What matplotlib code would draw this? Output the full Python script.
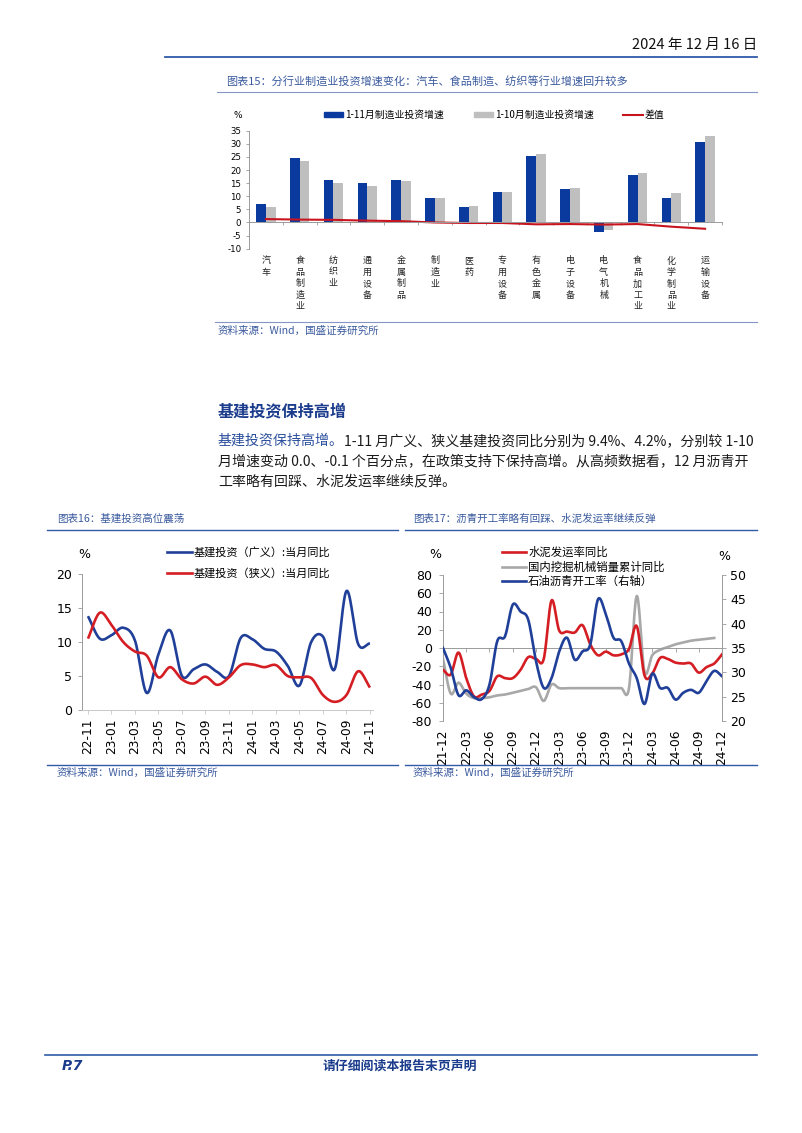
import numpy as np
import matplotlib
matplotlib.use('Agg')
import matplotlib.pyplot as plt
from matplotlib.lines import Line2D
from matplotlib.patches import Patch

# ---------------- data ----------------
industries = ['汽车', '食品制造业', '纺织业', '通用设备', '金属制品', '制造业', '医药',
              '专用设备', '有色金属', '电子设备', '电气机械', '食品加工业', '化学制品业', '运输设备']
inv_1_11 = [7.1, 24.6, 16.2, 14.9, 16.3, 9.3, 6.0, 11.6, 25.3, 12.6, -3.5, 18.2, 9.5, 30.7]
inv_1_10 = [5.9, 23.5, 15.1, 14.1, 15.8, 9.3, 6.2, 11.8, 26.1, 13.1, -2.7, 19.0, 11.1, 33.1]
inv_diff = [1.3, 1.1, 1.0, 0.7, 0.5, 0.0, -0.2, -0.2, -0.7, -0.6, -0.8, -0.6, -1.6, -2.4]
bar_legend = ['1-11月制造业投资增速', '1-10月制造业投资增速', '差值']

infra_months = ['22-11', '22-12', '23-01', '23-02', '23-03', '23-04', '23-05', '23-06', '23-07',
                '23-08', '23-09', '23-10', '23-11', '23-12', '24-01', '24-02', '24-03', '24-04',
                '24-05', '24-06', '24-07', '24-08', '24-09', '24-10', '24-11']
infra_broad = [13.8, 10.5, 11.0, 12.1, 10.2, 2.5, 8.2, 11.7, 5.0, 6.0, 6.7, 5.6, 5.0,
               10.6, 10.4, 9.0, 8.6, 6.5, 3.6, 10.0, 10.8, 6.0, 17.5, 9.7, 9.8]
infra_narrow = [10.5, 14.3, 12.5, 10.0, 8.6, 8.0, 4.8, 6.3, 4.5, 3.9, 4.9, 3.7, 4.8,
                6.6, 6.7, 6.3, 6.6, 5.0, 4.8, 4.7, 2.2, 1.2, 2.2, 5.7, 3.3]
infra_legend = ['基建投资（广义）:当月同比', '基建投资（狭义）:当月同比']

hf_months = ['21-12', '22-01', '22-02', '22-03', '22-04', '22-05', '22-06', '22-07', '22-08',
             '22-09', '22-10', '22-11', '22-12', '23-01', '23-02', '23-03', '23-04', '23-05',
             '23-06', '23-07', '23-08', '23-09', '23-10', '23-11', '23-12', '24-01', '24-02',
             '24-03', '24-04', '24-05', '24-06', '24-07', '24-08', '24-09', '24-10', '24-11', '24-12']
cement_yoy = [-24, -29, -5, -33, -53, -51, -47, -31, -33, -33, -24, -10, -12, -12, 52, 19, 18,
              17, 25, 4, -8, -4, -8, -7, -1, 24, -30, -28, -11, -12, -16, -17, -17, -27, -21, -17, -7]
excavator_cum = [-12, -50, -38, -50, -55, -55, -54, -52, -51, -49, -47, -45, -43, -58, -40, -44,
                 -44, -44, -44, -44, -44, -44, -44, -44, -44, 57, -26, -8, -2, 1, 4, 6, 8, 9, 10, 11]
asphalt_rate = [35.0, 30.9, 25.3, 26.3, 24.9, 24.5, 27.5, 36.4, 37.4, 43.9, 42.5, 40.8, 32.3,
                26.8, 28.8, 34.3, 37.1, 32.6, 34.3, 35.7, 45.0, 42.0, 37.1, 36.4, 31.8, 28.8,
                23.5, 29.7, 26.8, 26.8, 24.4, 25.8, 26.4, 25.8, 28.2, 30.3, 29.2]
hf_legend = ['水泥发运率同比', '国内挖掘机械销量累计同比', '石油沥青开工率（右轴）']

# ---------------- style ----------------
W, H = 802, 1133
CJK = ['Noto Sans CJK SC', 'DejaVu Sans']
NUM = ['DejaVu Sans', 'Noto Sans CJK SC']
plt.rcParams['font.family'] = NUM
plt.rcParams['axes.unicode_minus'] = False

BLUE_BAR = '#0B3A9E'
GRAY_BAR = '#BFBFBF'
RED = '#C8141E'
LBLUE = '#1F3F99'
LRED = '#D41E24'
LGRAY = '#A8A8A8'
TITLE_C = '#3A5A9E'
RULE_C = '#2F5BA8'
AXC = '#9A9A9A'

fig = plt.figure(figsize=(W / 100, H / 100), dpi=100)
fig.patch.set_facecolor('white')


def fx(x):
    return x / W


def fy(y):
    return 1 - y / H


def ax_px(l, t, r, b):
    return fig.add_axes([l / W, 1 - b / H, (r - l) / W, (b - t) / H])


def hline(x0, x1, y, color, lw):
    fig.add_artist(Line2D([fx(x0), fx(x1)], [fy(y), fy(y)], transform=fig.transFigure,
                          color=color, lw=lw))


def smooth(vals, n=16):
    y = np.asarray(vals, float)
    x = np.arange(len(y), dtype=float)
    m = np.zeros_like(y)
    m[1:-1] = (y[2:] - y[:-2]) / 2
    m[0] = y[1] - y[0]
    m[-1] = y[-1] - y[-2]
    xs, ys = [], []
    t = np.linspace(0, 1, n, endpoint=False)
    h00 = 2 * t ** 3 - 3 * t ** 2 + 1
    h10 = t ** 3 - 2 * t ** 2 + t
    h01 = -2 * t ** 3 + 3 * t ** 2
    h11 = t ** 3 - t ** 2
    for i in range(len(y) - 1):
        ys.append(h00 * y[i] + h10 * m[i] + h01 * y[i + 1] + h11 * m[i + 1])
        xs.append(x[i] + t)
    xs.append([x[-1]])
    ys.append([y[-1]])
    return np.concatenate(xs), np.concatenate(ys)


# ---------------- page header ----------------
fig.text(fx(757), fy(45), '2024 年 12 月 16 日', ha='right', va='center', fontsize=10.5,
         family=CJK, color='#111111')
hline(165, 757, 56.7, RULE_C, 1.3)

# ---------------- chart 15 ----------------
fig.text(fx(226), fy(81), '图表15：分行业制造业投资增速变化：汽车、食品制造、纺织等行业增速回升较多',
         ha='left', va='center', fontsize=8, family=CJK, color=TITLE_C)
hline(217, 757, 92, '#8596C6', 0.8)

ax1 = ax_px(249, 130.7, 722, 248.7)
xc = np.arange(len(industries))
ax1.bar(xc, inv_1_11, width=-0.287, align='edge', color=BLUE_BAR, zorder=2)
ax1.bar(xc, inv_1_10, width=0.287, align='edge', color=GRAY_BAR, zorder=2)
ax1.plot(xc, inv_diff, color=RED, lw=1.5, zorder=3)
ax1.set_xlim(-0.5, len(industries) - 0.5)
ax1.set_ylim(-10, 35)
ax1.set_yticks(np.arange(-10, 36, 5))
for s in ['top', 'right']:
    ax1.spines[s].set_visible(False)
ax1.spines['left'].set_color(AXC)
ax1.spines['left'].set_linewidth(0.7)
ax1.spines['bottom'].set_position(('data', 0))
ax1.spines['bottom'].set_color(AXC)
ax1.spines['bottom'].set_linewidth(0.7)
ax1.spines['bottom'].set_zorder(4)
ax1.set_xticks(np.arange(-0.5, len(industries), 1))
ax1.tick_params(axis='x', length=2.5, color=AXC, labelbottom=False, width=0.6)
ax1.tick_params(axis='y', length=2, color=AXC, labelsize=6.2, pad=3.5, width=0.6)
sec1 = ax1.secondary_xaxis('bottom')
sec1.set_xticks(xc, labels=['\n'.join(list(s)) for s in industries])
sec1.tick_params(length=0, pad=5.5, labelsize=6.5)
sec1.spines['bottom'].set_visible(False)
for lab in sec1.get_xticklabels():
    lab.set_family(CJK)
    lab.set_linespacing(1.35)
    lab.set_color('#222222')
fig.text(fx(238), fy(115), '%', ha='center', va='center', fontsize=6.5, family=NUM)
fig.legend([Patch(color=BLUE_BAR), Patch(color=GRAY_BAR), Line2D([], [], color=RED, lw=1.5)],
           bar_legend, loc='center left', bbox_to_anchor=(fx(324), fy(115)), ncol=3,
           frameon=False, prop={'family': CJK, 'size': 7.1}, handlelength=1.95,
           handleheight=0.55, handletextpad=0.2, columnspacing=3.0, borderpad=0,
           borderaxespad=0)

hline(215, 757, 322, '#8596C6', 0.8)
fig.text(fx(218), fy(331), '资料来源：Wind，国盛证券研究所', ha='left', va='center', fontsize=7.6,
         family=CJK, color=TITLE_C)

# ---------------- section text ----------------
fig.text(fx(218), fy(411), '基建投资保持高增', ha='left', va='center', fontsize=11.6,
         family=CJK, weight='bold', color='#1B3C8C')
renderer = fig.canvas.get_renderer()
t1 = fig.text(fx(218), fy(441), '基建投资保持高增。', ha='left', va='center', fontsize=10.05,
              family=CJK, color='#2A4E9C')
bb = t1.get_window_extent(renderer)
fig.text(bb.x1 / W, fy(441), '1-11 月广义、狭义基建投资同比分别为 9.4%、4.2%，分别较 1-10',
         ha='left', va='center', fontsize=10.05, family=CJK, color='#1A1A1A')
fig.text(fx(218), fy(461), '月增速变动 0.0、-0.1 个百分点，在政策支持下保持高增。从高频数据看，12 月沥青开',
         ha='left', va='center', fontsize=10.05, family=CJK, color='#1A1A1A')
fig.text(fx(218), fy(481), '工率略有回踩、水泥发运率继续反弹。', ha='left', va='center', fontsize=10.05,
         family=CJK, color='#1A1A1A')

# ---------------- chart 16 ----------------
fig.text(fx(57), fy(519), '图表16：基建投资高位震荡', ha='left', va='center', fontsize=7.6,
         family=CJK, color=TITLE_C)
hline(47, 398, 530, RULE_C, 1.0)

ax2 = ax_px(82, 574, 373, 710)
sx, sy = smooth(infra_broad)
ax2.plot(sx, sy, color=LBLUE, lw=1.9, solid_capstyle='butt')
sx, sy = smooth(infra_narrow)
ax2.plot(sx, sy, color=LRED, lw=1.9, solid_capstyle='butt')
ax2.set_xlim(-0.51, len(infra_months) - 1 + 0.26)
ax2.set_ylim(0, 20)
ax2.set_yticks([0, 5, 10, 15, 20])
ax2.set_xticks(np.arange(0, len(infra_months), 2), labels=infra_months[::2])
for s in ['top', 'right']:
    ax2.spines[s].set_visible(False)
ax2.spines['left'].set_color(AXC)
ax2.spines['left'].set_linewidth(0.7)
ax2.spines['bottom'].set_color('#C8C8C8')
ax2.spines['bottom'].set_linewidth(0.7)
ax2.tick_params(axis='y', length=3, color=AXC, labelsize=9, pad=4, width=0.6)
ax2.tick_params(axis='x', length=3, color='#C8C8C8', labelsize=8.8, pad=3, rotation=90,
                width=0.6)
fig.text(fx(84), fy(554), '%', ha='center', va='center', fontsize=9, family=NUM)
fig.legend([Line2D([], [], color=LBLUE, lw=1.9), Line2D([], [], color=LRED, lw=1.9)],
           infra_legend, loc='center left', bbox_to_anchor=(fx(167), fy(563)),
           frameon=False, prop={'family': CJK, 'size': 8}, handlelength=2.25,
           handletextpad=0.15, labelspacing=0.95, borderpad=0, borderaxespad=0)
hline(47, 398, 764.5, RULE_C, 1.0)
fig.text(fx(57), fy(773), '资料来源：Wind，国盛证券研究所', ha='left', va='center', fontsize=7.6,
         family=CJK, color=TITLE_C)

# ---------------- chart 17 ----------------
fig.text(fx(413), fy(519), '图表17：沥青开工率略有回踩、水泥发运率继续反弹', ha='left', va='center',
         fontsize=7.6, family=CJK, color=TITLE_C)
hline(405, 757, 530, RULE_C, 1.0)

ax3 = ax_px(443, 575, 722, 721)
sx, sy = smooth(cement_yoy)
ax3.plot(sx, sy, color=LRED, lw=1.9, zorder=3)
sx, sy = smooth(excavator_cum)
ax3.plot(sx, sy, color=LGRAY, lw=1.9, zorder=2)
ax3.set_xlim(0, len(hf_months) - 1)
ax3.set_ylim(-80, 80)
ax3.set_yticks(np.arange(-80, 81, 20))
ax3r = ax3.twinx()
sx, sy = smooth(asphalt_rate)
ax3r.plot(sx, sy, color=LBLUE, lw=1.9)
ax3r.set_ylim(20, 50)
ax3r.set_yticks(np.arange(20, 51, 5))
for a in (ax3, ax3r):
    a.spines['top'].set_visible(False)
ax3r.spines['bottom'].set_visible(False)
ax3r.spines['left'].set_visible(False)
ax3.spines['right'].set_visible(False)
ax3.spines['left'].set_color(AXC)
ax3.spines['left'].set_linewidth(0.7)
ax3r.spines['right'].set_color(AXC)
ax3r.spines['right'].set_linewidth(0.7)
ax3.spines['bottom'].set_position(('data', 0))
ax3.spines['bottom'].set_color(AXC)
ax3.spines['bottom'].set_linewidth(0.7)
ax3.set_xticks(np.arange(0, len(hf_months), 3))
ax3.tick_params(axis='x', length=3, color=AXC, labelbottom=False, width=0.6)
ax3.tick_params(axis='y', length=3, color=AXC, labelsize=9, pad=5, width=0.6)
ax3r.tick_params(axis='y', length=3, color=AXC, labelsize=9, pad=3, width=0.6)
sec3 = ax3.secondary_xaxis('bottom')
sec3.set_xticks(np.arange(0, len(hf_months), 3), labels=hf_months[::3])
sec3.tick_params(length=0, pad=6, labelsize=8.8, labelrotation=90)
sec3.spines['bottom'].set_visible(False)
fig.text(fx(435), fy(554), '%', ha='center', va='center', fontsize=9, family=NUM)
fig.text(fx(724), fy(557), '%', ha='center', va='center', fontsize=9, family=NUM)
fig.legend([Line2D([], [], color=LRED, lw=1.9), Line2D([], [], color=LGRAY, lw=1.9),
            Line2D([], [], color=LBLUE, lw=1.9)],
           hf_legend, loc='center left', bbox_to_anchor=(fx(502), fy(567)),
           frameon=False, prop={'family': CJK, 'size': 8.2}, handlelength=2.15,
           handletextpad=0.15, labelspacing=0.3, borderpad=0, borderaxespad=0)
hline(405, 757, 764.5, RULE_C, 1.0)
fig.text(fx(413), fy(773), '资料来源：Wind，国盛证券研究所', ha='left', va='center', fontsize=7.6,
         family=CJK, color=TITLE_C)

# ---------------- footer ----------------
hline(45, 757, 1055, RULE_C, 1.2)
fig.text(fx(62), fy(1066), 'P.7', ha='left', va='center', fontsize=10, weight='bold',
         style='italic', family=NUM, color='#1B3C8C')
fig.text(fx(400), fy(1066), '请仔细阅读本报告末页声明', ha='center', va='center', fontsize=9.3,
         weight='bold', family=CJK, color='#1B3C8C')

fig.savefig('out.png', dpi=100, facecolor='white')
